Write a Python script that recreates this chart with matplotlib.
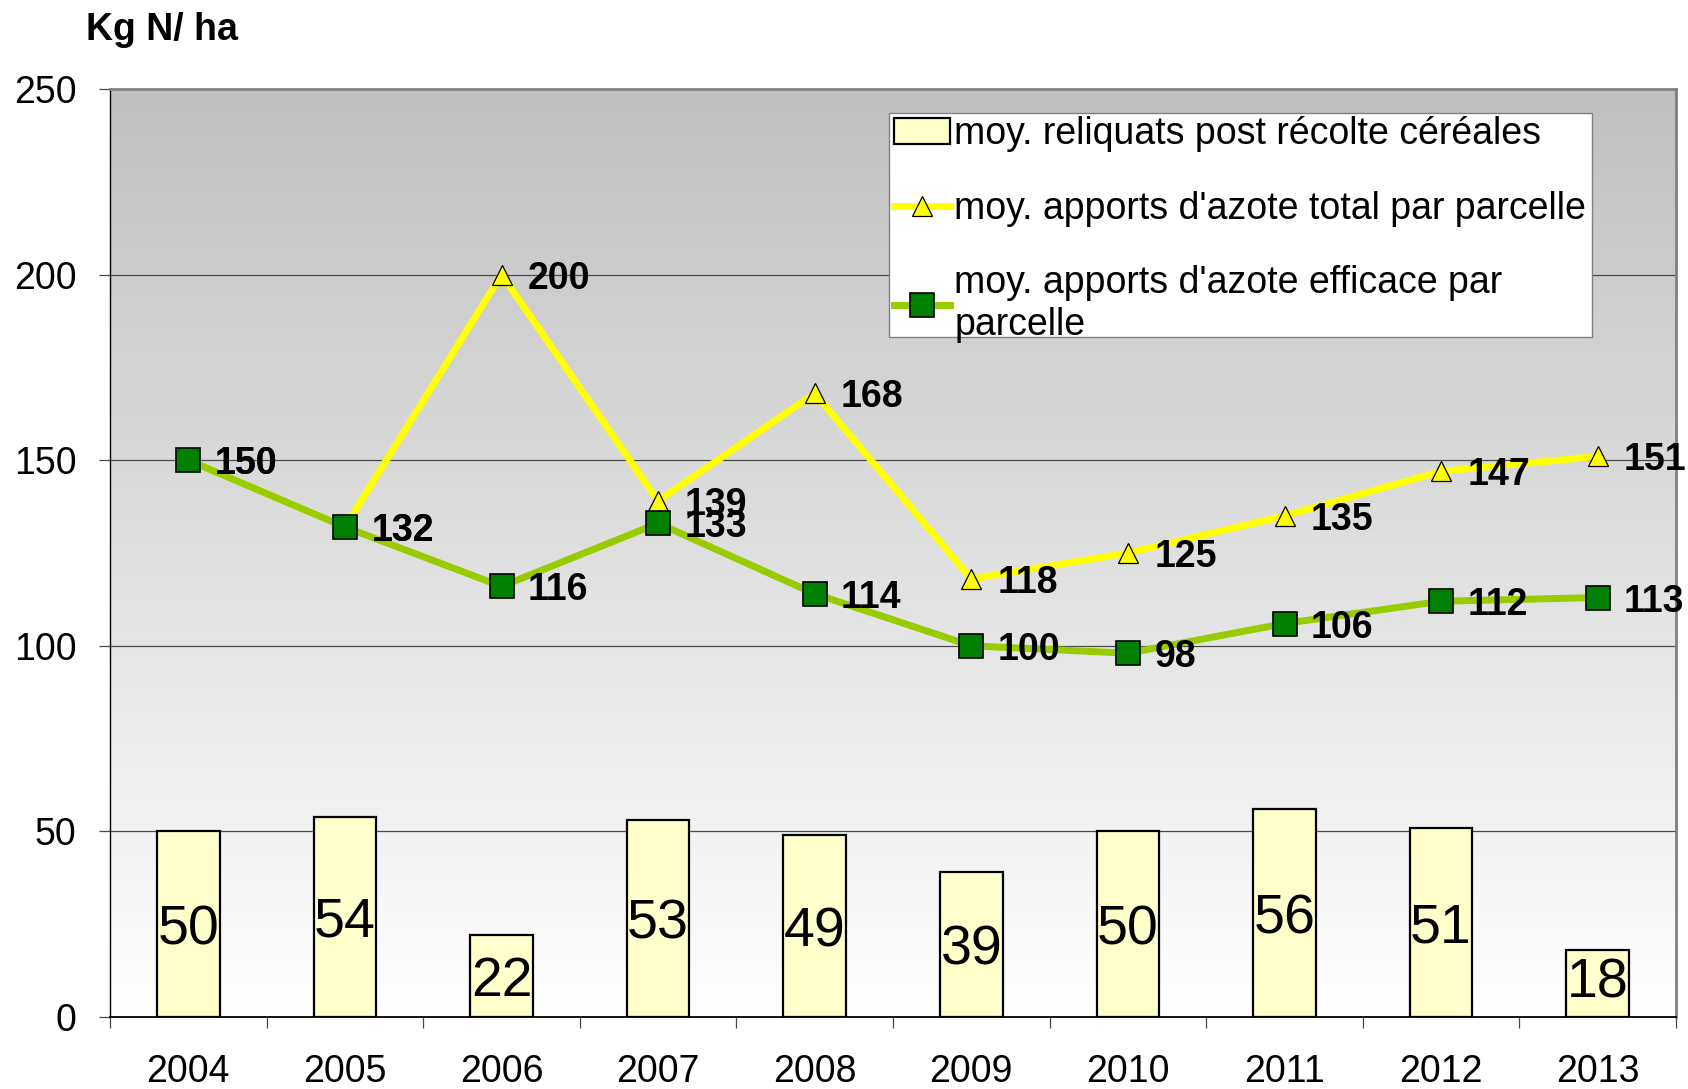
import matplotlib
matplotlib.use("Agg")
import matplotlib.pyplot as plt
import numpy as np
from matplotlib.lines import Line2D
from matplotlib.patches import Patch, Rectangle
from matplotlib.colors import LinearSegmentedColormap

plt.rcParams['font.family'] = ['Liberation Sans', 'DejaVu Sans']

years = ['2004', '2005', '2006', '2007', '2008', '2009', '2010', '2011', '2012', '2013']
reliquats = [50, 54, 22, 53, 49, 39, 50, 56, 51, 18]
azote_total = [150, 132, 200, 139, 168, 118, 125, 135, 147, 151]
azote_efficace = [150, 132, 116, 133, 114, 100, 98, 106, 112, 113]
yticks = [0, 50, 100, 150, 200, 250]

label_bars = "moy. reliquats post récolte céréales"
label_total = "moy. apports d'azote total par parcelle"
label_eff = "moy. apports d'azote efficace par\nparcelle"

W, H = 1688, 1089
fig = plt.figure(figsize=(W / 100, H / 100), dpi=100)
L, R, T, B = 110, 1676, 89, 1017
ax = fig.add_axes([L / W, 1 - B / H, (R - L) / W, (B - T) / H])

x = np.arange(len(years))
ax.set_xlim(-0.5, len(years) - 0.5)
ax.set_ylim(0, 250)

# gradient background
grad = np.linspace(1.0, 0.0, 256).reshape(-1, 1)
cmap = LinearSegmentedColormap.from_list('bg', ['#ffffff', '#c0c0c0'])
ax.imshow(grad, extent=(-0.5, len(years) - 0.5, 0, 250), aspect='auto',
          cmap=cmap, origin='upper', zorder=0, vmin=0, vmax=1)

# grid
for yv in yticks[1:-1]:
    ax.axhline(yv, color='#4a4a4a', lw=0.9, zorder=1)

# bars
ax.bar(x, reliquats, width=0.4, color='#FFFFCC', edgecolor='black', lw=1.6, zorder=2)
for xi, v in zip(x, reliquats):
    ax.text(xi, max(v / 2, 10.6), str(v), ha='center', va='center_baseline',
            fontsize=40, color='black', zorder=6)

# lines
ax.plot(x, azote_total, color='#FFFF00', lw=5, zorder=3, solid_capstyle='round',
        marker='^', markersize=14, markerfacecolor='#FFFF00', markeredgecolor='black',
        markeredgewidth=0.9)
ax.plot(x, azote_efficace, color='#99CC00', lw=5, zorder=4, solid_capstyle='round',
        marker='s', markersize=17, markerfacecolor='#008000', markeredgecolor='black',
        markeredgewidth=1.2)

for series in (azote_total, azote_efficace):
    for xi, v in zip(x, series):
        ax.annotate(str(v), (xi, v), xytext=(19, 0), textcoords='offset points',
                    ha='left', va='center_baseline', fontsize=27, fontweight='bold',
                    zorder=7, annotation_clip=False)

# axes styling
ax.set_yticks(yticks)
ax.set_yticklabels([str(t) for t in yticks], fontsize=27)
ax.tick_params(axis='y', direction='out', length=8, width=0.9, color='#4a4a4a', pad=16)
ax.set_xticks(np.arange(-0.5, len(years), 1.0))
ax.set_xticklabels([])
ax.tick_params(axis='x', which='major', direction='out', length=8, width=0.9, color='#4a4a4a')
ax.set_xticks(x, minor=True)
ax.set_xticklabels(years, minor=True, fontsize=27)
ax.tick_params(axis='x', which='minor', length=0, pad=27)

ax.spines['left'].set_color('black')
ax.spines['left'].set_linewidth(1.0)
ax.spines['bottom'].set_color('black')
ax.spines['bottom'].set_linewidth(1.3)
for s in ['top', 'right']:
    ax.spines[s].set_color('#808080')
    ax.spines[s].set_linewidth(2.0)

fig.text(86 / W, 1 - 30 / H, 'Kg N/ ha', fontsize=27, fontweight='bold',
         ha='left', va='center')

# legend
handles = [
    Patch(facecolor='#FFFFCC', edgecolor='black', lw=1.6),
    Line2D([], [], color='#FFFF00', lw=5, marker='^', markersize=14,
           markerfacecolor='#FFFF00', markeredgecolor='black', markeredgewidth=0.9),
    Line2D([], [], color='#99CC00', lw=5, marker='s', markersize=17,
           markerfacecolor='#008000', markeredgecolor='black', markeredgewidth=1.2),
]
lx0, ly0, lx1, ly1 = 889, 113, 1592, 337
leg = ax.legend(handles, [label_bars, label_total, label_eff],
                loc='upper left', bbox_to_anchor=(lx0 / W, 1 - ly0 / H, (lx1 - lx0) / W, 0.001),
                bbox_transform=fig.transFigure, mode='expand',
                fontsize=27, frameon=False, handlelength=1.5, borderpad=0.12,
                handletextpad=0.12, labelspacing=1.02, borderaxespad=0)
leg.set_zorder(10)
box = Rectangle((lx0 / W, 1 - ly1 / H), (lx1 - lx0) / W, (ly1 - ly0) / H,
                transform=fig.transFigure, facecolor='white', edgecolor='#808080',
                lw=1.0, zorder=9, clip_on=False)
ax.add_artist(box)

fig.savefig('out.png', dpi=100, facecolor='white')
